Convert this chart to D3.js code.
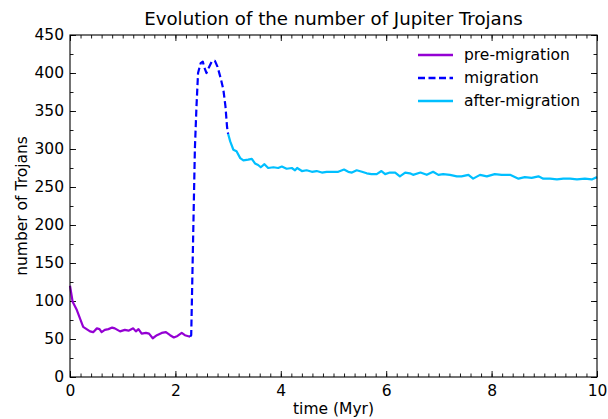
<!DOCTYPE html>
<html><head><meta charset="utf-8">
<script src="https://cdn.jsdelivr.net/npm/d3@7"></script>
<style>body{margin:0;background:#fff}svg{display:block}text{font-family:"DejaVu Sans",sans-serif;fill:#000}</style>
</head><body><svg id="c" width="608" height="419"></svg>
<script>
const preTime=[0,0.05,0.13,0.25,0.38,0.44,0.51,0.56,0.60,0.66,0.73,0.80,0.85,0.95,1.04,1.11,1.20,1.25,1.30,1.36,1.44,1.50,1.57,1.65,1.74,1.82,1.90,1.97,2.04,2.12,2.18,2.28];
const preVals=[120,99,88,66,60,59,64,63,59,62,63,65,64,60,62,61,64,60,63,57,58,57,51,55,58,59,55,52,54,58,55,53];
const migTime=[2.28,2.30,2.37,2.40,2.43,2.48,2.52,2.55,2.59,2.64,2.69,2.75,2.80,2.86,2.91,2.95,2.98,3.00];
const migVals=[53,55,301,356,400,413,415,407,400,408,415,416,408,393,378,356,329,320];
const postTime=[3.00,3.04,3.10,3.16,3.23,3.29,3.38,3.45,3.51,3.57,3.62,3.69,3.76,3.86,3.95,4.02,4.11,4.21,4.27,4.31,4.40,4.49,4.59,4.68,4.78,4.87,5.00,5.09,5.20,5.28,5.35,5.44,5.54,5.63,5.72,5.82,5.91,5.98,6.07,6.17,6.26,6.36,6.45,6.51,6.65,6.77,6.89,6.99,7.08,7.21,7.34,7.43,7.56,7.65,7.78,7.91,8.06,8.19,8.35,8.51,8.63,8.76,8.89,8.98,9.11,9.24,9.36,9.49,9.62,9.77,9.90,10.0];
const postVals=[320,310,299,297,288,285,286,287,281,279,276,280,275,276,275,277,274,275,272,275,271,272,270,271,269,270,270,270,273,270,269,272,270,268,267,267,271,267,269,269,264,269,268,266,269,266,270,266,267,266,264,264,266,261,266,264,267,266,266,261,263,262,264,261,261,260,261,261,260,261,260,263];
const xTicks=[0,2,4,6,8,10];
const yTicks=[0,50,100,150,200,250,300,350,400,450];
const seriesNames=["pre-migration","migration","after-migration"];
const seriesColors=["#9400d3","#0000ff","#00bfff"];

const svg=d3.select("#c");
const L=70,R=597,T=35,B=377;
const FS="15.5px";
const x=d3.scaleLinear().domain([0,10]).range([L,R]);
const y=d3.scaleLinear().domain([0,450]).range([B,T]);
const minorX=d3.range(0,10.001,0.2), minorY=d3.range(0,450.1,25);

function ax(gen,tr,vals,len,labels){
  const g=svg.append("g").attr("transform",tr).call(gen.tickValues(vals).tickSize(len).tickFormat(labels?d3.format("d"):""));
  g.select(".domain").remove();
  g.selectAll("line").attr("stroke","#000").attr("stroke-width",0.9);
  g.selectAll("text").style("font-size",FS).style("font-family","DejaVu Sans");
  return g;
}
const bx=ax(d3.axisBottom(x),`translate(0,${B})`,xTicks,-6,true); bx.selectAll("text").attr("y",8).attr("dy","0.71em");
ax(d3.axisBottom(x),`translate(0,${B})`,minorX,-3.5,false);
ax(d3.axisTop(x),`translate(0,${T})`,xTicks,-6,false);
ax(d3.axisTop(x),`translate(0,${T})`,minorX,-3.5,false);
const ly=ax(d3.axisLeft(y),`translate(${L},0)`,yTicks,-6,true); ly.selectAll("text").attr("x",-6);
ax(d3.axisLeft(y),`translate(${L},0)`,minorY,-3.5,false);
ax(d3.axisRight(y),`translate(${R},0)`,yTicks,-6,false);
ax(d3.axisRight(y),`translate(${R},0)`,minorY,-3.5,false);

const line=d3.line().x(d=>x(d[0])).y(d=>y(d[1]));
const sets=[[preTime,preVals],[migTime,migVals],[postTime,postVals]];
[0,2,1].forEach(i=>{
  const pts=sets[i][0].map((t,k)=>[t,sets[i][1][k]]);
  const p=svg.append("path").datum(pts).attr("d",line).attr("fill","none")
    .attr("stroke",seriesColors[i]).attr("stroke-width",2.2).attr("stroke-linejoin","round");
  if(i===1)p.attr("stroke-dasharray","7,3.5");
});

svg.append("rect").attr("x",L).attr("y",T).attr("width",R-L).attr("height",B-T)
  .attr("fill","none").attr("stroke","#000").attr("stroke-width",1.1);

seriesNames.forEach((n,i)=>{
  const yy=55+i*23;
  const l=svg.append("line").attr("x1",418).attr("x2",453).attr("y1",yy).attr("y2",yy)
    .attr("stroke",seriesColors[i]).attr("stroke-width",2.4);
  if(i===1)l.attr("stroke-dasharray","7,3.5");
  svg.append("text").attr("x",464).attr("y",yy).attr("dy","0.35em").style("font-size",FS).text(n);
});

svg.append("text").attr("x",(L+R)/2).attr("y",25).attr("text-anchor","middle").style("font-size","18.2px")
  .text("Evolution of the number of Jupiter Trojans");
svg.append("text").attr("x",(L+R)/2).attr("y",414).attr("text-anchor","middle").style("font-size",FS).text("time (Myr)");
svg.append("text").attr("transform",`translate(27,${(T+B)/2}) rotate(-90)`).attr("text-anchor","middle").style("font-size",FS).text("number of Trojans");
</script></body></html>
